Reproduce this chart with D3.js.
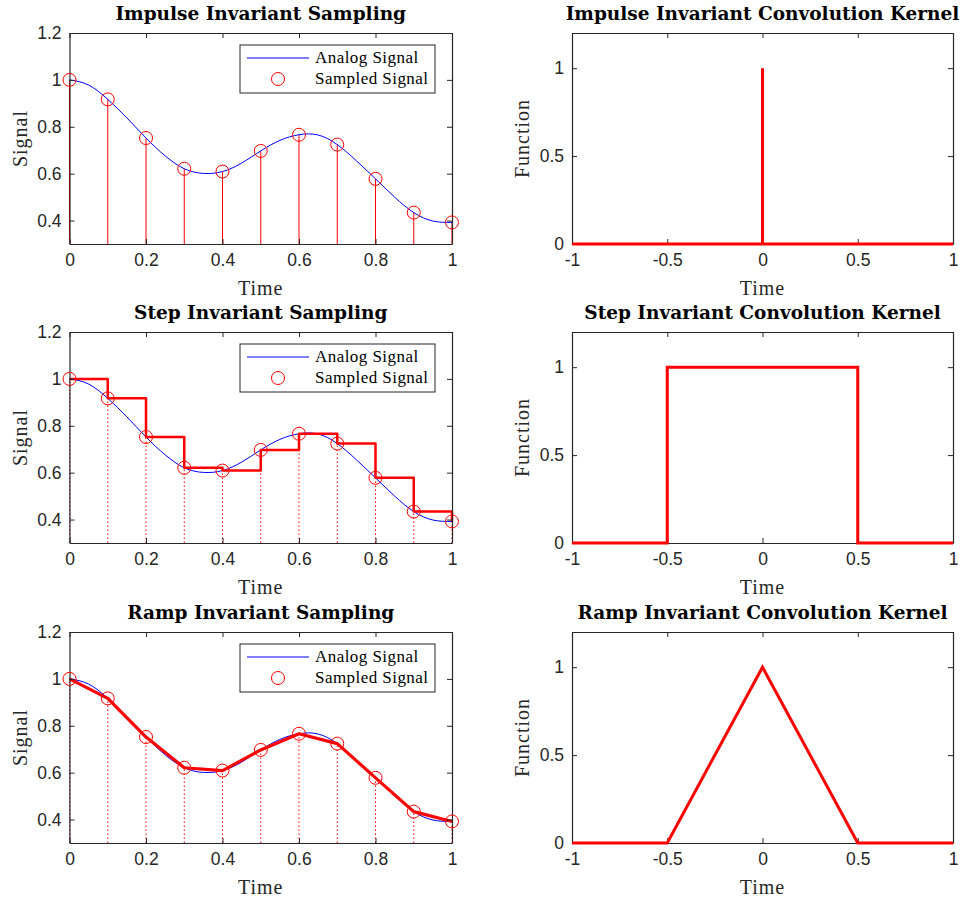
<!DOCTYPE html>
<html>
<head>
<meta charset="utf-8">
<script src="https://cdn.jsdelivr.net/npm/d3@7"></script>
<style>
  body { margin: 0; background: #fff; }
  svg { display: block; }
</style>
</head>
<body>
<svg width="964" height="897"></svg>
<script>
// sampled signal (t = 0 .. 1 step 0.1)
let sampleT = [0, 0.1, 0.2, 0.3, 0.4, 0.5, 0.6, 0.7, 0.8, 0.9, 1.0];
let sampleX = [1.0, 0.917, 0.752, 0.621, 0.609, 0.697, 0.766, 0.724, 0.578, 0.434, 0.392];

// analog signal
let analogT = [0, 0.05, 0.1, 0.15, 0.2, 0.25, 0.3, 0.35, 0.4, 0.45, 0.5, 0.55, 0.6, 0.65, 0.7, 0.75, 0.8, 0.85, 0.9, 0.95, 1.0];
let analogX = [1.0, 0.978, 0.917, 0.838, 0.752, 0.676, 0.621, 0.601, 0.609, 0.645, 0.697, 0.742, 0.766, 0.765, 0.724, 0.655, 0.578, 0.500, 0.434, 0.398, 0.392];

// convolution kernels
let impulseT = [-1, 0, 0, 0, 1];
let impulseK = [0, 0, 1, 0, 0];
let stepT = [-1, -0.5, -0.5, 0.5, 0.5, 1];
let stepK = [0, 0, 1, 1, 0, 0];
let rampT = [-1, -0.5, 0, 0.5, 1];
let rampK = [0, 0, 1, 0, 0];

let leftXTicks = [0, 0.2, 0.4, 0.6, 0.8, 1];
let leftYTicks = [0.4, 0.6, 0.8, 1, 1.2];
let rightXTicks = [-1, -0.5, 0, 0.5, 1];
let rightYTicks = [0, 0.5, 1];

const svg = d3.select("svg");
const axisColor = "#262626";
const rowTops = [33, 332, 632];
const plotH = 211;

function drawAxes(g, x, y, xTicks, yTicks, title, ylabel) {
    const w = x.range()[1], h = y.range()[0];
    const fmt = d => String(d);

    g.append("g").attr("transform", `translate(0,${h})`)
        .call(d3.axisBottom(x).tickValues(xTicks).tickFormat(fmt).tickSize(-5).tickSizeOuter(0).tickPadding(10));
    g.append("g")
        .call(d3.axisTop(x).tickValues(xTicks).tickFormat("").tickSize(-5).tickSizeOuter(0));
    g.append("g")
        .call(d3.axisLeft(y).tickValues(yTicks).tickFormat(fmt).tickSize(-5).tickSizeOuter(0).tickPadding(8));
    g.append("g").attr("transform", `translate(${w},0)`)
        .call(d3.axisRight(y).tickValues(yTicks).tickFormat("").tickSize(-5).tickSizeOuter(0));

    g.selectAll(".domain").attr("stroke", axisColor).attr("stroke-width", 1.2);
    g.selectAll(".tick line").attr("stroke", axisColor);
    g.selectAll(".tick text")
        .attr("fill", axisColor)
        .attr("font-family", "Liberation Sans, Arial, sans-serif")
        .attr("font-size", 17.5);

    g.append("text")
        .attr("x", w / 2).attr("y", -13)
        .attr("text-anchor", "middle")
        .attr("font-family", "DejaVu Serif, serif")
        .attr("font-weight", "bold")
        .attr("font-size", 18.5)
        .attr("fill", "#000")
        .text(title);
    g.append("text")
        .attr("x", w / 2).attr("y", h + 51)
        .attr("text-anchor", "middle")
        .attr("font-family", "Liberation Serif, serif")
        .attr("font-size", 20)
        .attr("letter-spacing", 1)
        .attr("fill", axisColor)
        .text("Time");
    g.append("text")
        .attr("transform", `translate(-43,${h / 2}) rotate(-90)`)
        .attr("text-anchor", "middle")
        .attr("font-family", "Liberation Serif, serif")
        .attr("font-size", 20)
        .attr("letter-spacing", 1)
        .attr("fill", axisColor)
        .text(ylabel);
}

function drawLegend(g) {
    const lg = g.append("g").attr("transform", "translate(170.5,12)");
    lg.append("rect")
        .attr("width", 195).attr("height", 48)
        .attr("fill", "#fff").attr("stroke", axisColor).attr("stroke-width", 1);
    lg.append("line")
        .attr("x1", 7).attr("x2", 69).attr("y1", 13).attr("y2", 13)
        .attr("stroke", "#0000ff").attr("stroke-width", 1);
    lg.append("circle")
        .attr("cx", 38).attr("cy", 34).attr("r", 6.5)
        .attr("fill", "none").attr("stroke", "#ff0000").attr("stroke-width", 1);
    const texts = ["Analog Signal", "Sampled Signal"];
    lg.selectAll("text.lab").data(texts).join("text")
        .attr("class", "lab")
        .attr("x", 75).attr("y", (d, i) => 18 + i * 21)
        .attr("font-family", "Liberation Serif, serif")
        .attr("font-size", 17)
        .attr("letter-spacing", 0.45)
        .attr("fill", "#000")
        .text(d => d);
}

const samples = sampleT.map((t, i) => ({ t: t, v: sampleX[i] }));
const analog = analogT.map((t, i) => ({ t: t, v: analogX[i] }));

const leftTitles = ["Impulse Invariant Sampling", "Step Invariant Sampling", "Ramp Invariant Sampling"];
const rightTitles = ["Impulse Invariant Convolution Kernel", "Step Invariant Convolution Kernel", "Ramp Invariant Convolution Kernel"];
const kernels = [[impulseT, impulseK], [stepT, stepK], [rampT, rampK]];

rowTops.forEach((top, row) => {
    // ---- left: sampling panel
    const g = svg.append("g").attr("transform", `translate(69.5,${top})`);
    const x = d3.scaleLinear().domain([0, 1]).range([0, 382.5]);
    const y = d3.scaleLinear().domain([0.3, 1.2]).range([plotH, 0]);

    // stems
    g.selectAll("line.stem").data(samples).join("line")
        .attr("class", "stem")
        .attr("x1", d => x(d.t)).attr("x2", d => x(d.t))
        .attr("y1", y(0.3)).attr("y2", d => y(d.v))
        .attr("stroke", "#ff0000")
        .attr("stroke-width", 1)
        .attr("stroke-dasharray", row === 0 ? null : "1.5,2.5");

    // analog curve
    g.append("path").datum(analog)
        .attr("d", d3.line().x(d => x(d.t)).y(d => y(d.v)).curve(d3.curveNatural))
        .attr("fill", "none").attr("stroke", "#0000ff").attr("stroke-width", 1);

    // reconstruction
    if (row > 0) {
        g.append("path").datum(samples)
            .attr("d", d3.line().x(d => x(d.t)).y(d => y(d.v))
                .curve(row === 1 ? d3.curveStepAfter : d3.curveLinear))
            .attr("fill", "none").attr("stroke", "#ff0000")
            .attr("stroke-width", row === 1 ? 2.5 : 3.2)
            .attr("stroke-linejoin", "round");
    }

    drawAxes(g, x, y, leftXTicks, leftYTicks, leftTitles[row], "Signal");

    g.selectAll("circle.pt").data(samples).join("circle")
        .attr("class", "pt")
        .attr("cx", d => x(d.t)).attr("cy", d => y(d.v)).attr("r", 6.5)
        .attr("fill", "none").attr("stroke", "#ff0000").attr("stroke-width", 1);

    drawLegend(g);

    // ---- right: kernel panel
    const gr = svg.append("g").attr("transform", `translate(572,${top})`);
    const xr = d3.scaleLinear().domain([-1, 1]).range([0, 381]);
    const yr = d3.scaleLinear().domain([0, 1.2]).range([plotH, 0]);
    const kt = kernels[row][0], kv = kernels[row][1];
    const kData = kt.map((t, i) => ({ t: t, v: kv[i] }));

    drawAxes(gr, xr, yr, rightXTicks, rightYTicks, rightTitles[row], "Function");

    gr.append("path").datum(kData)
        .attr("d", d3.line().x(d => xr(d.t)).y(d => yr(d.v)))
        .attr("fill", "none").attr("stroke", "#ff0000").attr("stroke-width", 3);
});
</script>
</body>
</html>
